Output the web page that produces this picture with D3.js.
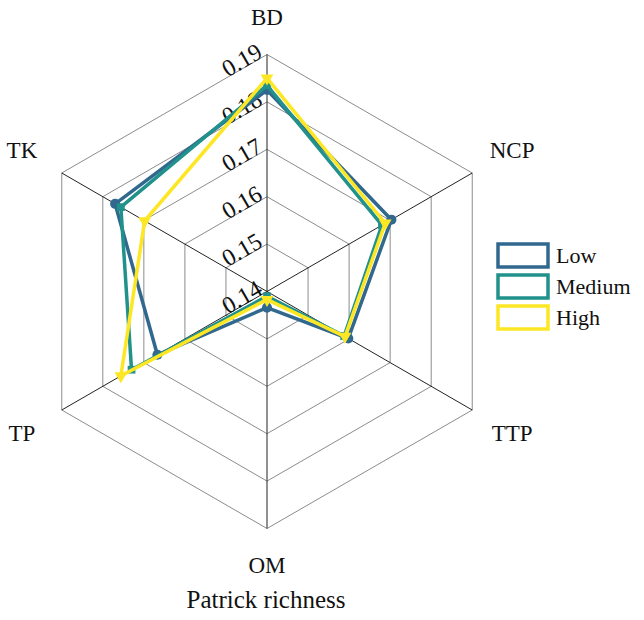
<!DOCTYPE html>
<html><head><meta charset="utf-8">
<script src="https://cdn.jsdelivr.net/npm/d3@7/dist/d3.min.js"></script>
<style>body{margin:0;background:#fff}svg{display:block}text{font-family:"Liberation Serif","Times New Roman",serif;fill:#111}</style>
</head><body>
<svg id="c" width="644" height="620"></svg>
<script>
const axes = ["BD","NCP","TTP","OM","TP","TK"];
const seriesNames = ["Low","Medium","High"];
const lowValues    = [0.1825,0.1703,0.1598,0.1434,0.1667,0.1770];
const mediumValues = [0.1835,0.1680,0.1588,0.1410,0.1730,0.1756];
const highValues   = [0.1850,0.1688,0.1590,0.1417,0.1756,0.1698];
const tickValues = [0.14,0.15,0.16,0.17,0.18,0.19];
const tickLabels = ["0.14","0.15","0.16","0.17","0.18","0.19"];
const title = "Patrick richness";

const series = [lowValues, mediumValues, highValues];
const colors = ["#31688e","#21918c","#fde725"];
const svg = d3.select("#c");
const cx = 267, cy = 291.5, R = 237;
const r = d3.scaleLinear().domain([0.14,0.19]).range([0,R]);
const ang = d3.scalePoint().domain(axes).range([0, 2*Math.PI*(axes.length-1)/axes.length]);
const pt = (a, v) => [cx + r(v)*Math.sin(ang(a)), cy - r(v)*Math.cos(ang(a))];

// rings
const g = svg.append("g");
tickValues.slice(1).forEach(t => {
  g.append("path")
   .attr("d", d3.line()(axes.map(a => pt(a, t))) + "Z")
   .attr("fill","none").attr("stroke","#8c8c8c").attr("stroke-width",1);
});
// spokes
axes.forEach(a => {
  const [x,y] = pt(a, 0.19);
  g.append("line").attr("x1",cx).attr("y1",cy).attr("x2",x).attr("y2",y)
   .attr("stroke","#222").attr("stroke-width",1);
});
// tick labels
tickValues.forEach((t,i) => {
  const [x,y] = pt("BD", t);
  g.append("text").attr("transform",`translate(${x-3},${y+2}) rotate(-30)`)
   .attr("text-anchor","end").attr("font-size",24).text(tickLabels[i]);
});
// axis labels
axes.forEach(a => {
  const th = ang(a);
  const lr = Math.abs(Math.sin(th)) < 0.1 ? 274 : 283;
  g.append("text")
   .attr("x", cx + lr*Math.sin(th)).attr("y", cy - lr*Math.cos(th))
   .attr("text-anchor","middle").attr("dominant-baseline","central")
   .attr("font-size",23).text(a);
});
// polygons
const sym = [d3.symbolCircle, d3.symbolSquare, d3.symbolTriangle];
const symSize = [80, 60, 70];
series.forEach((vals, si) => {
  const pts = axes.map((a,i) => pt(a, vals[i]));
  svg.append("path").attr("d", d3.line()(pts) + "Z")
    .attr("fill","none").attr("stroke",colors[si]).attr("stroke-width",3.5)
    .attr("stroke-linejoin","miter");
  pts.forEach(p => {
    svg.append("path").attr("d", d3.symbol().type(sym[si]).size(symSize[si])())
      .attr("transform", `translate(${p[0]},${p[1]})` + (si===2 ? " rotate(180)" : ""))
      .attr("fill", colors[si]);
  });
});
// legend
const lg = svg.append("g");
seriesNames.forEach((n,i) => {
  const y0 = 244 + i*31;
  lg.append("rect").attr("x",498).attr("y",y0).attr("width",50).attr("height",23)
    .attr("fill","#fff").attr("stroke",colors[i]).attr("stroke-width",3.5);
  lg.append("text").attr("x",556).attr("y",y0+11.5).attr("dominant-baseline","central")
    .attr("font-size",22).text(n);
});
// title
svg.append("text").attr("x",266).attr("y",608).attr("text-anchor","middle")
  .attr("font-size",25).text(title);
</script>
</body></html>
